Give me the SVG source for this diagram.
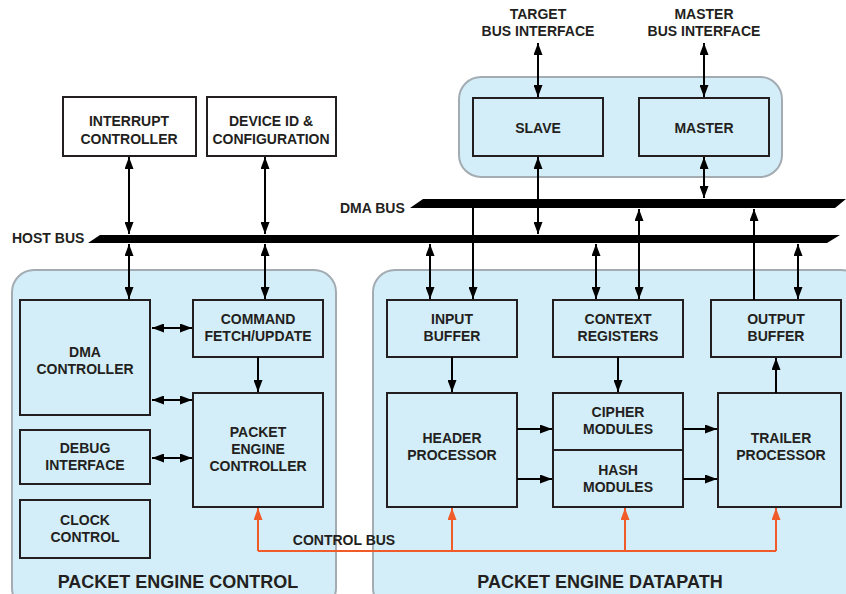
<svg xmlns="http://www.w3.org/2000/svg" width="846" height="594" viewBox="0 0 846 594">
<defs>
<marker id="ah" markerUnits="userSpaceOnUse" markerWidth="12" markerHeight="9" refX="12" refY="4.5" orient="auto-start-reverse"><path d="M0,0 L12,4.5 L0,9 z" fill="#000"/></marker>
<marker id="ahr" markerUnits="userSpaceOnUse" markerWidth="12" markerHeight="9" refX="12" refY="4.5" orient="auto-start-reverse"><path d="M0,0 L12,4.5 L0,9 z" fill="#f15a29"/></marker>
</defs>
<style>
.grp{fill:#d3eef8;stroke:#a3acb2;stroke-width:2}
.box{fill:#d3eef8;stroke:#231f20;stroke-width:2}
.plain{fill:#fff;stroke:#231f20;stroke-width:2}
text{font-family:"Liberation Sans",Arial,sans-serif;font-weight:bold;font-size:14px;fill:#231f20;text-anchor:middle}
.big{font-size:18px}
.lbl{text-anchor:start}
.c{stroke:#000;stroke-width:2;fill:none}
.d{marker-start:url(#ah);marker-end:url(#ah)}
.s{marker-end:url(#ah)}
.r{stroke:#f15a29;stroke-width:2;fill:none}
.bus{fill:#000}
</style>
<rect width="846" height="594" fill="#fff"/>

<g id="group-control"><rect class="grp" x="12" y="270" width="324" height="340" rx="22"/><text class="big" x="178" y="588">PACKET ENGINE CONTROL</text></g>
<g id="group-datapath"><rect class="grp" x="373" y="270" width="490" height="340" rx="22"/><text class="big" x="600" y="588">PACKET ENGINE DATAPATH</text></g>
<g id="group-bus"><rect class="grp" x="459" y="77" width="323" height="100" rx="22"/></g>

<g id="host-bus"><polygon class="bus" points="100,235 840,235 827,243 88,243"/><text class="lbl" x="12" y="243">HOST BUS</text></g>
<g id="dma-bus"><polygon class="bus" points="423,199 846,199 835,208 410,208"/><text class="lbl" x="340" y="213">DMA BUS</text></g>

<g id="interrupt"><rect class="plain" x="63" y="97" width="133" height="59"/><text x="129" y="126">INTERRUPT</text><text x="129" y="144">CONTROLLER</text></g>
<g id="deviceid"><rect class="plain" x="207" y="97" width="129" height="59"/><text x="271" y="126">DEVICE ID &amp;</text><text x="271" y="144">CONFIGURATION</text></g>

<g id="slave"><rect class="box" x="473" y="98" width="130" height="58"/><text x="538" y="133">SLAVE</text></g>
<g id="master"><rect class="box" x="639" y="98" width="130" height="58"/><text x="704" y="133">MASTER</text></g>
<g id="target-label"><text x="538" y="19">TARGET</text><text x="538" y="36">BUS INTERFACE</text></g>
<g id="master-label"><text x="704" y="19">MASTER</text><text x="704" y="36">BUS INTERFACE</text></g>

<g id="dma-controller"><rect class="box" x="20" y="300" width="130" height="115"/><text x="85" y="357">DMA</text><text x="85" y="374">CONTROLLER</text></g>
<g id="debug"><rect class="box" x="20" y="430" width="130" height="54"/><text x="85" y="453">DEBUG</text><text x="85" y="470">INTERFACE</text></g>
<g id="clock"><rect class="box" x="20" y="500" width="130" height="58"/><text x="85" y="525">CLOCK</text><text x="85" y="542">CONTROL</text></g>
<g id="command"><rect class="box" x="193" y="300" width="130" height="57"/><text x="258" y="324">COMMAND</text><text x="258" y="341">FETCH/UPDATE</text></g>
<g id="pec"><rect class="box" x="193" y="393" width="130" height="114"/><text x="258" y="437">PACKET</text><text x="258" y="454">ENGINE</text><text x="258" y="471">CONTROLLER</text></g>

<g id="input-buffer"><rect class="box" x="387" y="300" width="130" height="57"/><text x="452" y="324">INPUT</text><text x="452" y="341">BUFFER</text></g>
<g id="context"><rect class="box" x="553" y="300" width="130" height="57"/><text x="618" y="324">CONTEXT</text><text x="618" y="341">REGISTERS</text></g>
<g id="output-buffer"><rect class="box" x="711" y="300" width="130" height="57"/><text x="776" y="324">OUTPUT</text><text x="776" y="341">BUFFER</text></g>
<g id="header"><rect class="box" x="387" y="393" width="130" height="114"/><text x="452" y="443">HEADER</text><text x="452" y="460">PROCESSOR</text></g>
<g id="cipher"><rect class="box" x="553" y="393" width="130" height="57"/><text x="618" y="417">CIPHER</text><text x="618" y="434">MODULES</text></g>
<g id="hash"><rect class="box" x="553" y="450" width="130" height="57"/><text x="618" y="475">HASH</text><text x="618" y="492">MODULES</text></g>
<g id="trailer"><rect class="box" x="718" y="393" width="123" height="114"/><text x="781" y="443">TRAILER</text><text x="781" y="460">PROCESSOR</text></g>

<g id="connectors">
<line class="c d" x1="129" y1="157" x2="129" y2="234"/>
<line class="c d" x1="129" y1="244" x2="129" y2="299"/>
<line class="c d" x1="265" y1="157" x2="265" y2="234"/>
<line class="c d" x1="265" y1="244" x2="265" y2="299"/>
<line class="c d" x1="538" y1="43" x2="538" y2="97"/>
<line class="c d" x1="704" y1="43" x2="704" y2="97"/>
<line class="c d" x1="538" y1="157" x2="538" y2="234"/>
<line class="c d" x1="704" y1="157" x2="704" y2="198"/>
<line class="c d" x1="430" y1="244" x2="430" y2="299"/>
<line class="c s" x1="473" y1="208" x2="473" y2="299"/>
<line class="c d" x1="596" y1="244" x2="596" y2="299"/>
<line class="c d" x1="639" y1="209" x2="639" y2="299"/>
<line class="c s" x1="754" y1="300" x2="754" y2="209"/>
<line class="c d" x1="798" y1="244" x2="798" y2="299"/>
<line class="c d" x1="152" y1="328" x2="192" y2="328"/>
<line class="c d" x1="152" y1="400" x2="192" y2="400"/>
<line class="c d" x1="152" y1="458" x2="192" y2="458"/>
<line class="c s" x1="258" y1="357" x2="258" y2="392"/>
<line class="c s" x1="452" y1="357" x2="452" y2="392"/>
<line class="c s" x1="618" y1="357" x2="618" y2="392"/>
<line class="c s" x1="776" y1="393" x2="776" y2="358"/>
<line class="c s" x1="517" y1="429" x2="552" y2="429"/>
<line class="c s" x1="517" y1="479" x2="552" y2="479"/>
<line class="c s" x1="683" y1="429" x2="717" y2="429"/>
<line class="c s" x1="683" y1="479" x2="717" y2="479"/>
<polyline class="r" points="258,551 776,551"/>
<line class="r" x1="258" y1="551" x2="258" y2="508" marker-end="url(#ahr)"/>
<line class="r" x1="452" y1="551" x2="452" y2="508" marker-end="url(#ahr)"/>
<line class="r" x1="625" y1="551" x2="625" y2="508" marker-end="url(#ahr)"/>
<line class="r" x1="776" y1="551" x2="776" y2="508" marker-end="url(#ahr)"/>
<text x="344" y="545">CONTROL BUS</text>
</g>
</svg>
